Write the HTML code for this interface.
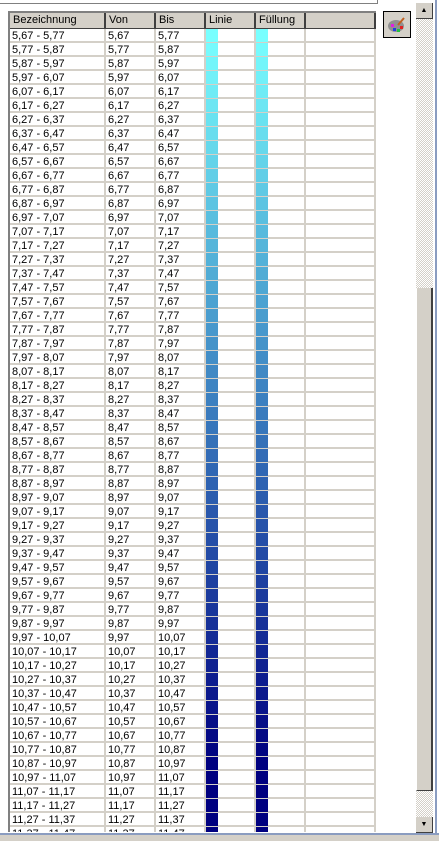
<!DOCTYPE html>
<html><head><meta charset="utf-8"><style>
body{margin:0;width:439px;height:841px;background:#fff;overflow:hidden;position:relative;font-family:"Liberation Sans",sans-serif;font-size:11px;}
.abs{position:absolute;}
#tbl{left:8px;top:11px;width:368px;height:821px;overflow:hidden;border-left:2px solid #808080;border-top:2px solid #808080;box-sizing:border-box;}
.hdr{position:absolute;top:0;height:16px;background:#d4d0c8;border-right:2px solid #404040;border-bottom:1px solid #404040;box-sizing:border-box;padding-left:3px;line-height:15px;color:#000;}
.cell{position:absolute;height:14px;line-height:14px;padding-left:2px;border-right:2px solid #d4d0c8;border-bottom:2px solid #d4d0c8;box-sizing:border-box;color:#000;white-space:nowrap;}
.sw{position:absolute;width:12px;height:13px;}
</style></head><body>
<div class="abs" style="left:0;top:0;width:378px;height:4px;border-bottom:1px solid #808080;border-right:1px solid #808080;box-sizing:border-box"></div>
<div id="tbl" class="abs"></div>
<div class="abs" style="left:383px;top:11px;width:28px;height:27px;border:1px solid #000;background:#d4d0c8;box-sizing:border-box">
<svg width="26" height="25" viewBox="0 0 26 25"><ellipse cx="12" cy="14" rx="8" ry="6" fill="#909090"/><rect x="7" y="12" width="3" height="3" fill="#e020e0"/><rect x="9" y="16" width="3" height="3" fill="#2040e0"/><rect x="13" y="17" width="3" height="3" fill="#20c040"/><rect x="16" y="14" width="3" height="3" fill="#e02020"/><line x1="14" y1="13" x2="20" y2="6" stroke="#c06020" stroke-width="2"/></svg></div>
<div class="abs" style="left:416px;top:3px;width:17px;height:830px;background:repeating-conic-gradient(#fff 0 25%,#d4d0c8 0 50%) 0 0/2px 2px">
<div class="abs" style="left:0;top:0;width:17px;height:16px;background:#d4d0c8;border-right:1px solid #404040;border-bottom:1px solid #404040;box-sizing:border-box;font-size:7px;text-align:center;line-height:15px">▲</div>
<div class="abs" style="left:0;top:285px;width:17px;height:503px;background:#d4d0c8;border-left:1px solid #fff;border-right:2px solid #404040;border-bottom:1px solid #404040;box-sizing:border-box"></div>
<div class="abs" style="left:0;top:814px;width:17px;height:16px;background:#d4d0c8;border-right:1px solid #404040;border-bottom:1px solid #404040;box-sizing:border-box;font-size:7px;text-align:center;line-height:15px">▼</div>
</div>
<div class="abs" style="left:435px;top:0;width:2px;height:838px;background:#8a9cc0"></div>
<div class="abs" style="left:0;top:833px;width:439px;height:8px;background:#d4d0c8;border-top:2px solid #8a9cc0;box-sizing:border-box"></div>
<script>
const vonValues=[5.67,5.77,5.87,5.97,6.07,6.17,6.27,6.37,6.47,6.57,6.67,6.77,6.87,6.97,7.07,7.17,7.27,7.37,7.47,7.57,7.67,7.77,7.87,7.97,8.07,8.17,8.27,8.37,8.47,8.57,8.67,8.77,8.87,8.97,9.07,9.17,9.27,9.37,9.47,9.57,9.67,9.77,9.87,9.97,10.07,10.17,10.27,10.37,10.47,10.57,10.67,10.77,10.87,10.97,11.07,11.17,11.27,11.37];
const bisValues=[5.77,5.87,5.97,6.07,6.17,6.27,6.37,6.47,6.57,6.67,6.77,6.87,6.97,7.07,7.17,7.27,7.37,7.47,7.57,7.67,7.77,7.87,7.97,8.07,8.17,8.27,8.37,8.47,8.57,8.67,8.77,8.87,8.97,9.07,9.17,9.27,9.37,9.47,9.57,9.67,9.77,9.87,9.97,10.07,10.17,10.27,10.37,10.47,10.57,10.67,10.77,10.87,10.97,11.07,11.17,11.27,11.37,11.47];
const headers=["Bezeichnung","Von","Bis","Linie","Füllung",""];
const t=document.getElementById('tbl');
const colX=[0,96,146,196,246,296],colW=[96,50,50,50,50,70];
const fmt=v=>v.toFixed(2).replace('.',',');
headers.forEach((h,i)=>{const d=document.createElement('div');d.className='hdr';d.style.left=colX[i]+'px';d.style.width=colW[i]+'px';d.textContent=h;


t.appendChild(d);});
const colorAt=(k)=>{const f=Math.min(1,k/52);return `rgb(${Math.round(120*(1-f))},${Math.round(255*(1-f))},${Math.round(255-127*f)})`;};
vonValues.forEach((v,r)=>{const y=16+r*14;
const vals=[fmt(v)+' - '+fmt(bisValues[r]),fmt(v),fmt(bisValues[r]),'','',''];
vals.forEach((s,i)=>{const c=document.createElement('div');c.className='cell';c.style.left=colX[i]+'px';c.style.top=y+'px';c.style.width=colW[i]+'px';c.textContent=s;


t.appendChild(c);});
[196,246].forEach((x,j)=>{const s=document.createElement('div');s.className='sw';s.style.left=x+'px';s.style.top=y+'px';s.style.background=colorAt(r);


t.appendChild(s);});
});
</script>
</body></html>
